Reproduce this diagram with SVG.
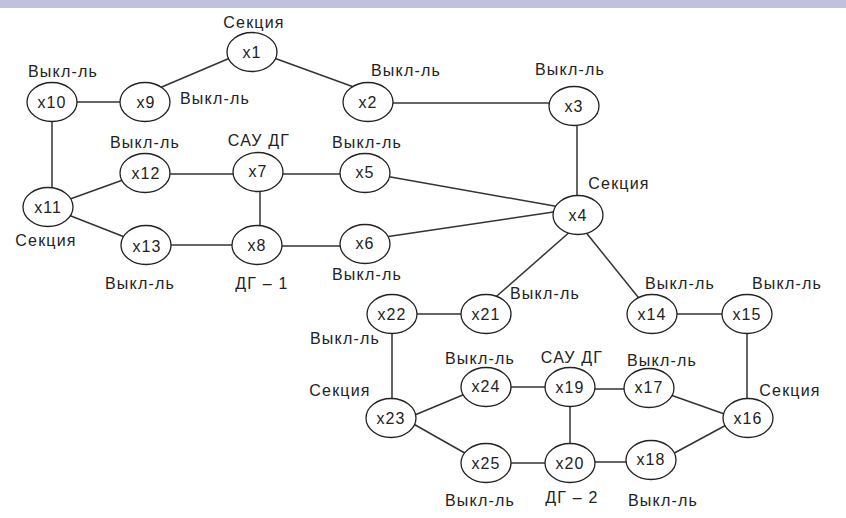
<svg xmlns="http://www.w3.org/2000/svg" width="846" height="518" viewBox="0 0 846 518">
<style>
.n ellipse{fill:#fff;stroke:#222;stroke-width:1.3}
.n text{font-family:"Liberation Sans",Arial,sans-serif;font-size:16px;letter-spacing:1px;fill:#222;text-anchor:middle;dominant-baseline:central}
.lb{font-family:"Liberation Sans",Arial,sans-serif;font-size:16px;letter-spacing:1.2px;fill:#222;text-anchor:middle;dominant-baseline:central}
#edges line{stroke:#333;stroke-width:1.5}
</style>
<rect x="0" y="0" width="846" height="518" fill="#fff"/>
<rect x="0" y="0" width="846" height="8" fill="#c0c0e0"/>
<g id="edges">
<line x1="230" y1="58" x2="150" y2="92"/>
<line x1="274" y1="58" x2="362" y2="90"/>
<line x1="52" y1="102" x2="145" y2="102"/>
<line x1="52" y1="102" x2="52" y2="207"/>
<line x1="368" y1="103" x2="575" y2="103"/>
<line x1="577" y1="106" x2="577" y2="215"/>
<line x1="48" y1="207" x2="145" y2="172"/>
<line x1="48" y1="207" x2="145" y2="245"/>
<line x1="145" y1="174" x2="258" y2="174"/>
<line x1="258" y1="174" x2="365" y2="174"/>
<line x1="260" y1="172" x2="260" y2="245"/>
<line x1="145" y1="245" x2="258" y2="245"/>
<line x1="258" y1="246" x2="365" y2="246"/>
<line x1="385" y1="176" x2="560" y2="207"/>
<line x1="385" y1="237" x2="560" y2="211"/>
<line x1="572" y1="230" x2="490" y2="302"/>
<line x1="584" y1="230" x2="642" y2="302"/>
<line x1="392" y1="314" x2="486" y2="314"/>
<line x1="392" y1="314" x2="392" y2="418"/>
<line x1="652" y1="314" x2="747" y2="314"/>
<line x1="747" y1="314" x2="747" y2="418"/>
<line x1="410" y1="417" x2="470" y2="392"/>
<line x1="410" y1="422" x2="470" y2="456"/>
<line x1="486" y1="387" x2="570" y2="387"/>
<line x1="570" y1="389" x2="649" y2="389"/>
<line x1="570" y1="386" x2="570" y2="463"/>
<line x1="486" y1="463" x2="570" y2="463"/>
<line x1="570" y1="462" x2="651" y2="462"/>
<line x1="665" y1="393" x2="730" y2="416"/>
<line x1="667" y1="457" x2="730" y2="423"/>
</g>
<g id="x1" class="n"><ellipse cx="252" cy="52" rx="25" ry="19.5"/><text x="252" y="52">x1</text></g>
<g id="x2" class="n"><ellipse cx="368" cy="102" rx="25" ry="19.5"/><text x="368" y="102">x2</text></g>
<g id="x3" class="n"><ellipse cx="574" cy="106" rx="25" ry="19.5"/><text x="574" y="106">x3</text></g>
<g id="x4" class="n"><ellipse cx="578" cy="215" rx="25" ry="19.5"/><text x="578" y="215">x4</text></g>
<g id="x5" class="n"><ellipse cx="365" cy="173" rx="25" ry="19.5"/><text x="365" y="172">x5</text></g>
<g id="x6" class="n"><ellipse cx="365" cy="244" rx="25" ry="19.5"/><text x="365" y="243">x6</text></g>
<g id="x7" class="n"><ellipse cx="258" cy="172" rx="25" ry="19.5"/><text x="258" y="171">x7</text></g>
<g id="x8" class="n"><ellipse cx="257" cy="245" rx="25" ry="19.5"/><text x="257" y="245">x8</text></g>
<g id="x9" class="n"><ellipse cx="145" cy="102" rx="25" ry="19.5"/><text x="146" y="102">x9</text></g>
<g id="x10" class="n"><ellipse cx="52" cy="102" rx="25" ry="19.5"/><text x="52" y="102">x10</text></g>
<g id="x11" class="n"><ellipse cx="48" cy="207" rx="25" ry="19.5"/><text x="48" y="207">x11</text></g>
<g id="x12" class="n"><ellipse cx="145" cy="173" rx="25" ry="19.5"/><text x="146" y="173">x12</text></g>
<g id="x13" class="n"><ellipse cx="146" cy="245" rx="25" ry="19.5"/><text x="147" y="246">x13</text></g>
<g id="x14" class="n"><ellipse cx="652" cy="314" rx="25" ry="19.5"/><text x="652" y="314">x14</text></g>
<g id="x15" class="n"><ellipse cx="747" cy="314" rx="25" ry="19.5"/><text x="747" y="314">x15</text></g>
<g id="x16" class="n"><ellipse cx="748" cy="418" rx="25" ry="19.5"/><text x="748" y="418">x16</text></g>
<g id="x17" class="n"><ellipse cx="649" cy="388" rx="25" ry="19.5"/><text x="649" y="387">x17</text></g>
<g id="x18" class="n"><ellipse cx="651" cy="460" rx="25" ry="19.5"/><text x="651" y="459">x18</text></g>
<g id="x19" class="n"><ellipse cx="570" cy="387" rx="25" ry="19.5"/><text x="570" y="387">x19</text></g>
<g id="x20" class="n"><ellipse cx="570" cy="463" rx="25" ry="19.5"/><text x="570" y="463">x20</text></g>
<g id="x21" class="n"><ellipse cx="486" cy="314" rx="25" ry="19.5"/><text x="486" y="314">x21</text></g>
<g id="x22" class="n"><ellipse cx="392" cy="314" rx="25" ry="19.5"/><text x="392" y="314">x22</text></g>
<g id="x23" class="n"><ellipse cx="391" cy="418" rx="25" ry="19.5"/><text x="391" y="418">x23</text></g>
<g id="x24" class="n"><ellipse cx="486" cy="387" rx="25" ry="19.5"/><text x="486" y="386">x24</text></g>
<g id="x25" class="n"><ellipse cx="486" cy="463" rx="25" ry="19.5"/><text x="486" y="463">x25</text></g>
<g id="labels">
<text class="lb" x="254" y="22">Секция</text>
<text class="lb" x="63" y="71">Выкл-ль</text>
<text class="lb" x="215" y="98">Выкл-ль</text>
<text class="lb" x="406" y="70">Выкл-ль</text>
<text class="lb" x="570" y="69">Выкл-ль</text>
<text class="lb" x="145" y="142">Выкл-ль</text>
<text class="lb" x="259" y="140">САУ ДГ</text>
<text class="lb" x="367" y="142">Выкл-ль</text>
<text class="lb" x="46" y="240">Секция</text>
<text class="lb" x="140" y="283">Выкл-ль</text>
<text class="lb" x="262" y="283">ДГ – 1</text>
<text class="lb" x="367" y="274">Выкл-ль</text>
<text class="lb" x="619" y="183">Секция</text>
<text class="lb" x="545" y="293">Выкл-ль</text>
<text class="lb" x="680" y="283">Выкл-ль</text>
<text class="lb" x="787" y="283">Выкл-ль</text>
<text class="lb" x="345" y="338">Выкл-ль</text>
<text class="lb" x="340" y="390">Секция</text>
<text class="lb" x="480" y="358">Выкл-ль</text>
<text class="lb" x="572" y="357">САУ ДГ</text>
<text class="lb" x="662" y="360">Выкл-ль</text>
<text class="lb" x="790" y="390">Секция</text>
<text class="lb" x="480" y="500">Выкл-ль</text>
<text class="lb" x="572" y="497">ДГ – 2</text>
<text class="lb" x="663" y="500">Выкл-ль</text>
</g>
</svg>
